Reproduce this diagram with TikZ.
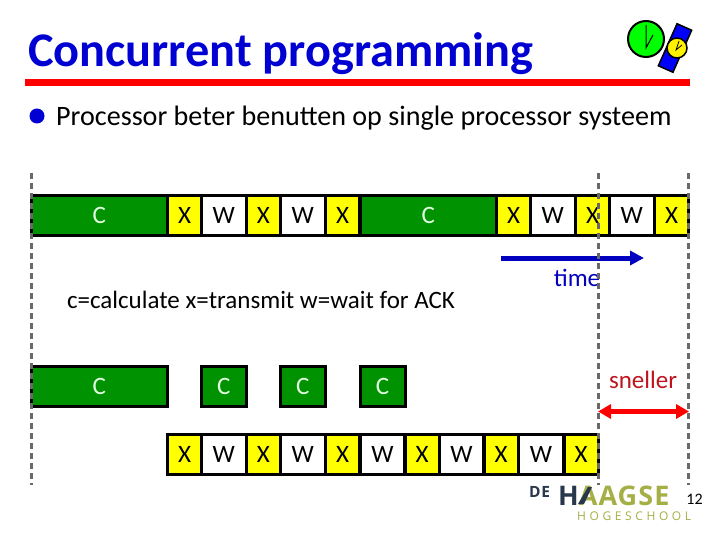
\documentclass[tikz,border=0pt]{standalone}
\usepackage{fontspec}
\setmainfont{Carlito}
\newfontfamily\logofont[LetterSpace=4]{Open Sans}
\newfontfamily\spacedfont[LetterSpace=30]{Open Sans}
\usetikzlibrary{arrows.meta}
\definecolor{titleblue}{RGB}{0,0,210}
\definecolor{timeblue}{RGB}{0,0,190}
\definecolor{slotgreen}{RGB}{0,146,0}
\definecolor{slotyellow}{RGB}{255,255,0}
\definecolor{labelgreen}{RGB}{225,255,225}
\definecolor{markgray}{RGB}{105,105,105}
\definecolor{snellerred}{RGB}{190,20,30}
\definecolor{logonavy}{RGB}{40,55,75}
\definecolor{logoolive}{RGB}{165,175,70}
\tikzset{
  slot/.style={draw=black,line width=3pt,minimum height=40pt,inner sep=0pt,font=\fontsize{25}{28}\selectfont},
  xslot/.style={slot,fill=slotyellow,minimum width=34pt},
  wslot/.style={slot,fill=white,minimum width=44.5pt},
  cslot/.style={slot,fill=slotgreen,text=labelgreen},
  marker/.style={markgray,line width=3pt,dash pattern=on 6pt off 4pt},
  plain/.style={inner sep=0pt,font=\fontsize{25}{28}\selectfont}
}
\begin{document}
\begin{tikzpicture}[x=1pt,y=-1pt]
  \useasboundingbox (0,0) rectangle (720,540);

  % header
  \node[inner sep=0pt,anchor=west,text=titleblue,font=\fontsize{48.3}{52}\selectfont\bfseries] (title) at (28,54) {Concurrent programming};
  \fill[red] (25,79) rectangle (690,86);
  \node[circle,fill=titleblue,inner sep=0pt,minimum size=15pt] (bullet) at (37,116) {};
  \node[plain,anchor=west,font=\fontsize{28.1}{30}\selectfont] (intro) at (56,118) {Processor beter benutten op single processor systeem};

  % clocks
  \draw[black,line width=1.5pt,fill=blue,rotate around={-24:(675,48)}] (667,25) rectangle (683,71);
  \draw[black,line width=2pt,fill=green] (646,39) circle (18);
  \draw[black,line width=1pt] (646,25) -- (646,48) -- (653,35);
  \draw[black,line width=1.5pt,fill=yellow] (677,48) circle (10);
  \draw[black,line width=.8pt] (679,41) -- (676,50) -- (682,45);

  % top row
  \node[cslot,minimum width=136.5pt] (c1) at (99.25,215.5) {C};
  \node[cslot,minimum width=136.7pt] (c2) at (428.35,215.5) {C};
  \foreach \idx/\xpos in {1/184.5,2/263.25,3/342.5,4/513.5,5/592.5,6/671.5}
    \node[xslot] (topx\idx) at (\xpos,215.5) {X};
  \foreach \idx/\xpos in {1/223.75,2/302.75,3/552.75,4/631.75}
    \node[wslot] (topw\idx) at (\xpos,215.5) {W};

  % legend and time
  \node[plain] (legend) at (261,300) {c=calculate x=transmit w=wait for ACK};
  \node[plain,text=timeblue] (timelabel) at (577,278) {time};
  \coordinate (timestart) at (501,258);
  \coordinate (timeend) at (644,258);
  \draw[-{Triangle[length=14pt,width=14pt]},timeblue,line width=5pt] (timestart) -- (timeend);

  % second row
  \node[cslot,minimum width=136.5pt] (low1) at (99.25,386) {C};
  \node[cslot,minimum width=44.5pt] (low2) at (223.75,386) {C};
  \node[cslot,minimum width=44.5pt] (low3) at (302.75,386) {C};
  \node[cslot,minimum width=45pt] (low4) at (382.5,386) {C};

  % third row
  \foreach \idx/\xpos in {1/184.5,2/263.25,3/342.5,4/422,5/501,6/581}
    \node[xslot] (botx\idx) at (\xpos,454) {X};
  \foreach \idx/\xpos in {1/223.75,2/302.75,3/382.5,4/461.5,5/541}
    \node[wslot] (botw\idx) at (\xpos,454) {W};

  % markers
  \foreach \name/\xpos in {start/31,fast/598,slow/688}{
    \coordinate (\name up) at (\xpos,173);
    \coordinate (\name down) at (\xpos,485);
    \draw[marker] (\name up) -- (\name down);
  }

  % gain
  \node[plain,text=snellerred] (sneller) at (643,380) {sneller};
  \coordinate (gainleft) at (598,411.5);
  \coordinate (gainright) at (689,411.5);
  \draw[{Triangle[length=13pt,width=14pt]}-{Triangle[length=13pt,width=14pt]},red,line width=5pt] (gainleft) -- (gainright);

  % logo
  \node[inner sep=0pt,anchor=west,text=logonavy,font=\logofont\fontsize{15.5}{15.5}\selectfont\bfseries] (logode) at (529,491.5) {DE};
  \node[inner sep=0pt,anchor=west,text=logoolive,font=\logofont\fontsize{27}{27}\selectfont\bfseries] (logoname) at (558,495.5) {\textcolor{logonavy}{H}AAGSE};
  \fill[logonavy] (578,504) -- (584,504) -- (592,487) -- (588,487) -- cycle;
  \node[inner sep=0pt,anchor=west,text=logoolive,font=\spacedfont\fontsize{12}{12}\selectfont] (logosub) at (577,516) {HOGESCHOOL};
  \node[inner sep=0pt,font=\fontsize{16}{16}\selectfont] (page) at (694.5,499) {12};
\end{tikzpicture}
\end{document}
